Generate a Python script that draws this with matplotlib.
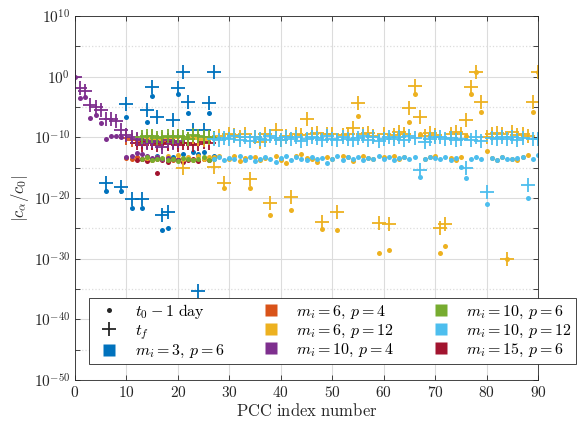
import numpy as np
import matplotlib.pyplot as plt
from matplotlib.lines import Line2D

plt.rcParams['mathtext.fontset'] = 'cm'
plt.rcParams['font.family'] = 'serif'
plt.rcParams['font.serif'] = ['DejaVu Serif']

# values are stored as log10(|c_a/c_0|); t0 = "t0 - 1 day" (dots), tf = crosses
m3p6_idx = [6, 9, 10, 11, 13, 14, 15, 16, 17, 18, 19, 20, 21, 22, 23, 24, 25, 26, 27]
m3p6_t0 = [-18.9, -18.8, -6.6, -21.7, -21.7, -7.5, -3.2, -13.0, -25.2, -25.0, -13.2,
           -2.9, -12.8, -6.0, -12.5, -12.8, -12.5, -6.0, -13.0]
m3p6_tf = [-17.5, -18.2, -4.5, -20.1, -20.1, -5.5, -1.7, -6.6, -22.8, -22.3, -7.2,
           -1.9, 0.8, -4.25, -8.8, -35.3, -8.8, -4.4, 0.8]

m6p4_idx = [10, 11, 12, 13, 14, 15, 16, 17, 18, 19, 20]
m6p4_t0 = [-13.4, -13.6, -13.2, -13.5, -13.3, -13.8, -13.5, -13.6, -13.4, -13.7, -13.5]
m6p4_tf = [-10.1, -10.4, -10.5, -10.8, -10.6, -10.9, -10.5, -10.7, -11.0, -10.6, -10.8]

m6p12_idx = list(range(14, 91))
m6p12_t0 = [-13.4, -13.7, -13.2, -13.5, -13.1, -13.6, -12.9, -13.6, -13.3, -13.8,
            -13.0, -13.5, -13.2, -13.3, -13.0, -18.3, -13.6, -13.1, -13.9, -13.4,
            -18.4, -13.2, -13.7, -13.4, -22.8, -13.0, -13.8, -14.3, -22.0, -13.1,
            -12.8, -13.4, -13.6, -14.1, -25.1, -13.3, -13.5, -25.3, -13.0, -13.2,
            -13.9, -6.5, -13.1, -13.4, -13.6, -29.1, -13.3, -28.5, -13.0, -13.5,
            -13.2, -7.4, -2.9, -9.4, -13.6, -13.3, -13.1, -29.0, -27.9, -13.4,
            -13.7, -13.2, -9.8, -2.8, 0.8, -5.8, -12.2, -13.4, -13.7, -13.3,
            -30.1, -13.5, -13.8, -13.2, -12.9, -5.8, 0.8]
m6p12_tf = [-10.3, -10.0, -10.5, -10.2, -10.4, -10.1, -9.9, -15.1, -10.2, -10.0,
            -10.3, -10.4, -10.1, -14.9, -9.8, -17.5, -9.4, -9.6, -10.0, -9.5,
            -16.9, -9.9, -10.7, -9.4, -20.9, -8.8, -10.4, -9.8, -19.8, -9.4,
            -9.6, -6.9, -9.5, -9.3, -23.9, -9.4, -9.5, -22.3, -9.6, -9.4,
            -8.5, -4.3, -9.4, -9.3, -9.7, -24.1, -9.5, -24.3, -9.6, -9.2,
            -9.4, -5.2, -1.6, -6.6, -9.8, -9.3, -9.6, -25.0, -24.3, -9.4,
            -9.2, -9.5, -7.2, -1.7, 0.8, -4.15, -9.9, -9.4, -9.3, -9.5,
            -30.1, -9.2, -9.6, -9.4, -9.8, -4.15, 0.8]

m10p4_idx = list(range(0, 21))
m10p4_t0 = [0.0, -3.5, -3.3, -6.8, -6.3, -7.6, -10.2, -9.7, -9.7, -10.0, -13.3,
            -13.1, -12.6, -12.7, -13.1, -13.4, -13.2, -13.6, -13.4, -13.5, -13.7]
m10p4_tf = [0.0, -1.9, -2.3, -4.6, -5.0, -5.5, -6.9, -6.9, -7.3, -8.8, -9.6,
            -9.9, -10.2, -10.4, -11.0, -10.6, -10.8, -11.6, -10.5, -10.9, -10.6]

m10p6_idx = list(range(13, 28))
m10p6_t0 = [-13.6, -13.3, -13.8, -13.5, -13.4, -13.7, -13.6, -13.9, -13.4, -13.5,
            -13.8, -13.6, -13.3, -13.7, -13.5]
m10p6_tf = [-10.0, -9.8, -9.7, -10.1, -9.9, -9.8, -10.0, -9.7, -9.9, -10.2,
            -9.6, -9.8, -10.0, -9.9, -10.1]

m10p12_idx = list(range(27, 91))
m10p12_t0 = [-13.5, -13.2, -13.8, -13.4, -13.6, -13.1, -13.7, -13.3, -13.9, -13.5,
             -13.2, -13.6, -14.0, -13.4, -13.1, -13.7, -13.3, -13.5, -13.8, -13.2,
             -13.6, -13.4, -14.2, -13.5, -13.1, -13.7, -13.3, -13.6, -13.2, -13.8,
             -13.4, -13.5, -13.1, -13.6, -13.3, -13.7, -13.4, -13.2, -13.5, -13.3,
             -16.5, -13.6, -13.2, -13.4, -13.5, -13.3, -13.7, -13.4, -14.9, -16.7,
             -13.5, -13.2, -13.6, -21.0, -13.4, -13.7, -13.3, -13.5, -13.6, -13.4,
             -13.2, -20.0, -13.6, -12.9]
m10p12_tf = [-10.2, -10.5, -10.1, -10.3, -9.8, -10.4, -10.0, -10.6, -9.9, -10.2,
             -10.4, -9.8, -10.1, -10.5, -9.9, -10.2, -10.0, -10.6, -10.3, -9.9,
             -10.1, -10.4, -9.8, -10.2, -10.5, -10.0, -10.3, -10.5, -10.1, -9.8,
             -10.4, -10.0, -10.6, -10.2, -9.9, -10.3, -10.0, -10.4, -9.8, -10.1,
             -15.4, -10.7, -10.2, -10.0, -9.9, -10.3, -10.1, -10.5, -10.2, -15.1,
             -10.4, -10.0, -10.6, -19.0, -10.1, -10.3, -9.9, -10.2, -10.0, -10.4,
             -10.1, -17.9, -10.2, -10.3]

m15p6_idx = list(range(12, 27))
m15p6_t0 = [-13.8, -13.5, -13.9, -13.6, -15.8, -13.7, -14.0, -13.6, -13.8, -14.1,
            -13.7, -13.5, -13.9, -13.6, -13.8]
m15p6_tf = [-10.9, -11.2, -10.8, -11.0, -11.3, -10.9, -11.1, -10.8, -11.2, -11.0,
            -10.9, -11.3, -11.1, -10.8, -11.0]

labels = [r'$m_i=3,\,p=6$', r'$m_i=6,\,p=4$', r'$m_i=6,\,p=12$', r'$m_i=10,\,p=4$',
          r'$m_i=10,\,p=6$', r'$m_i=10,\,p=12$', r'$m_i=15,\,p=6$']
colors = ['#0072BD', '#D95319', '#EDB120', '#7E2F8E', '#77AC30', '#4DBEEE', '#A2142F']

series = [(m3p6_idx, m3p6_t0, m3p6_tf, colors[0]),
          (m6p4_idx, m6p4_t0, m6p4_tf, colors[1]),
          (m15p6_idx, m15p6_t0, m15p6_tf, colors[6]),
          (m6p12_idx, m6p12_t0, m6p12_tf, colors[2]),
          (m10p4_idx, m10p4_t0, m10p4_tf, colors[3]),
          (m10p6_idx, m10p6_t0, m10p6_tf, colors[4]),
          (m10p12_idx, m10p12_t0, m10p12_tf, colors[5])]

fig = plt.figure(figsize=(5.88, 4.26), dpi=100)
ax = fig.add_axes([75/588, 46/426, 463/588, 364/426])

for idx, t0, tf, c in series:
    ax.plot(idx, 10.0**np.array(t0), ls='none', marker='o', ms=3.6, color=c, mec='none')
    ax.plot(idx, 10.0**np.array(tf), ls='none', marker='+', ms=10, mew=1.3, color=c)

ax.set_yscale('log')
ax.set_ylim(1e-50, 1e10)
ax.set_xlim(0, 90)
ax.set_xticks(range(0, 91, 10))
ax.set_xticklabels([r'$%d$' % v for v in range(0, 91, 10)], fontsize=11)
ax.set_yticks([10.0**k for k in range(-50, 11, 10)])
ax.set_yticklabels([r'$10^{%d}$' % k for k in range(-50, 11, 10)], fontsize=11)
ax.set_yticks([10.0**k for k in range(-45, 10, 10)], minor=True)
ax.set_yticklabels([], minor=True)
ax.tick_params(which='both', direction='in', top=True, right=True, length=3.5,
               width=0.6, color='#262626', labelcolor='#262626')
ax.grid(True, which='major', color='#dcdcdc', lw=0.8)
ax.grid(True, which='minor', axis='y', color='#dcdcdc', ls=':', lw=0.9)
ax.set_axisbelow(True)
for s in ax.spines.values():
    s.set_color('#262626')
    s.set_linewidth(0.6)

ax.set_xlabel(r'$\mathrm{PCC\ index\ number}$', fontsize=12, color='#262626', labelpad=2)
ax.set_ylabel(r'$|c_\alpha/c_0|$', fontsize=12, color='#262626', labelpad=2)

handles = [Line2D([], [], ls='none', marker='o', ms=3.6, color='#262626', mec='none'),
           Line2D([], [], ls='none', marker='+', ms=10, mew=1.3, color='#262626')]
handles += [Line2D([], [], ls='none', marker='s', ms=9, color=c, mec='none') for c in colors]
leg_labels = [r'$t_0-1\ \mathrm{day}$', r'$t_f$'] + labels
leg = fig.legend(handles, leg_labels, ncol=3, loc='upper left',
                 bbox_to_anchor=(89/588, 1 - 298/426), borderaxespad=0, fontsize=11.5,
                 frameon=True, fancybox=False, framealpha=1, edgecolor='#262626',
                 labelspacing=0.05, columnspacing=1.9, handlelength=2.0,
                 handletextpad=0.6, borderpad=0.25)
leg.get_frame().set_linewidth(0.6)

fig.savefig('out.png', dpi=100)
